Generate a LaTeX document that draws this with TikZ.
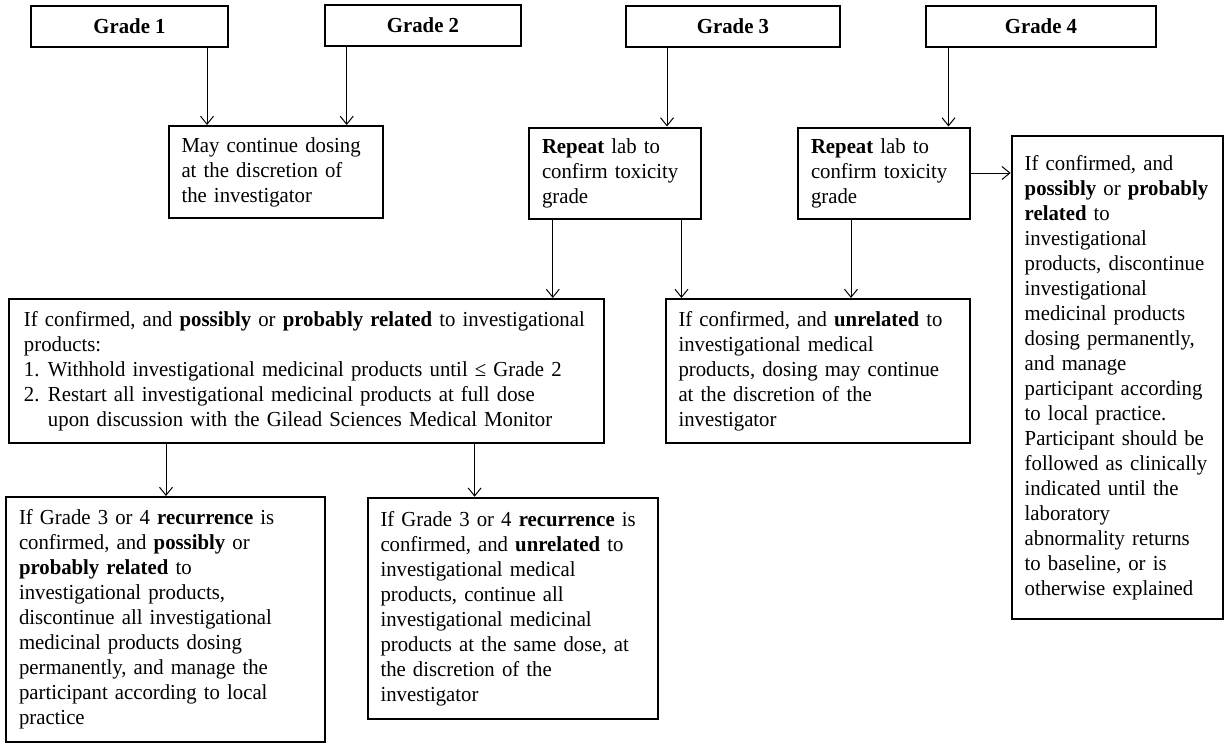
\documentclass[tikz,border=0pt]{standalone}
\usepackage{fontspec}
\setmainfont[FakeStretch=0.97]{Liberation Serif}
\usetikzlibrary{calc,arrows.meta}

\begin{document}
\begin{tikzpicture}[x=0.5pt, y=-0.5pt,
      font=\fontsize{10.7}{12.5}\selectfont,
      grade/.style={draw, line width=1pt, font=\fontsize{10.7}{12.5}\selectfont\bfseries,
                    minimum height=20.5pt, inner sep=0pt},
      box/.style={draw, line width=1pt, align=left, inner xsep=6.5pt, inner ysep=0pt},
      arr/.style={-{Straight Barb[length=4pt,width=6.5pt]}, line width=0.5pt}]
    \useasboundingbox (0,0) rectangle (1225,744);
    % grade boxes
    \node[grade, minimum width=98.5pt] (g1) at (129.5,26.5) {Grade 1};
    \node[grade, minimum width=98pt]   (g2) at (423,25.5)   {Grade 2};
    \node[grade, minimum width=107pt]  (g3) at (733,26.5)   {Grade 3};
    \node[grade, minimum width=115pt]  (g4) at (1041,26.5)  {Grade 4};
    % second row
    \node[box, text width=94.25pt, minimum height=46pt] (cont) at (275.75,172)
      {May continue dosing\\ at the discretion of\\ the investigator};
    \node[box, text width=73pt, minimum height=45.5pt] (rep3) at (615,173)
      {\textbf{Repeat} lab to\\ confirm toxicity\\ grade};
    \node[box, text width=73pt, minimum height=45.5pt] (rep4) at (884,173)
      {\textbf{Repeat} lab to\\ confirm toxicity\\ grade};
    \node[box, text width=92.6pt, minimum height=241.5pt] (disc4) at (1117.3,377.5)
      {If confirmed, and\\ \textbf{possibly} or \textbf{probably}\\ \textbf{related} to\\
       investigational\\ products, discontinue\\ investigational\\ medicinal products\\
       dosing permanently,\\ and manage\\ participant according\\ to local practice.\\
       Participant should be\\ followed as clinically\\ indicated until the\\ laboratory\\
       abnormality returns\\ to baseline, or is\\ otherwise explained};
    % third row
    \node[box, inner xsep=7.5pt, text width=282.3pt, minimum height=72pt] (rel3) at (306.3,371)
      {If confirmed, and \textbf{possibly} or \textbf{probably related} to investigational\\
       products:\\
       \makebox[12pt][l]{1.}Withhold investigational medicinal products until ≤ Grade 2\\
       \makebox[12pt][l]{2.}Restart all investigational medicinal products at full dose\\
       \hspace*{12pt}upon discussion with the Gilead Sciences Medical Monitor};
    \node[box, text width=139.25pt, minimum height=72pt] (unrel3) at (817.75,371)
      {If confirmed, and \textbf{unrelated} to\\ investigational medical\\
       products, dosing may continue\\ at the discretion of the\\ investigator};
    % recurrence
    \node[box, text width=146.5pt, minimum height=122.5pt] (recrel) at (165.5,619.5)
      {If Grade 3 or 4 \textbf{recurrence} is\\ confirmed, and \textbf{possibly} or\\
       \textbf{probably related} to\\ investigational products,\\
       discontinue all investigational\\ medicinal products dosing\\
       permanently, and manage the\\ participant according to local\\ practice};
    \node[box, text width=132pt, minimum height=110.8pt] (recun) at (512.5,608.5)
      {If Grade 3 or 4 \textbf{recurrence} is\\ confirmed, and \textbf{unrelated} to\\
       investigational medical\\ products, continue all\\ investigational medicinal\\
       products at the same dose, at\\ the discretion of the\\ investigator};
    % arrow start points
    \coordinate (a1) at ($(g1.south)+(77.5,0)$);
    \coordinate (a2) at ($(g2.south)+(-76.3,0)$);
    \coordinate (a3) at ($(g3.south)+(-66,0)$);
    \coordinate (a4) at ($(g4.south)+(-92.5,0)$);
    \coordinate (b1) at ($(rep3.south)+(-62.2,0)$);
    \coordinate (b2) at ($(rep3.south)+(66.5,0)$);
    \coordinate (b3) at ($(rep4.south)+(-33,0)$);
    \coordinate (c1) at ($(rel3.south)+(-140.3,0)$);
    \coordinate (c2) at ($(rel3.south)+(168.3,0)$);
    \draw[arr] (a1) -- (a1 |- cont.north);
    \draw[arr] (a2) -- (a2 |- cont.north);
    \draw[arr] (a3) -- (a3 |- rep3.north);
    \draw[arr] (a4) -- (a4 |- rep4.north);
    \draw[arr] (rep4.east) -- (rep4.east -| disc4.west);
    \draw[arr] (b1) -- (b1 |- rel3.north);
    \draw[arr] (b2) -- (b2 |- unrel3.north);
    \draw[arr] (b3) -- (b3 |- unrel3.north);
    \draw[arr] (c1) -- (c1 |- recrel.north);
    \draw[arr] (c2) -- (c2 |- recun.north);
\end{tikzpicture}
\end{document}
